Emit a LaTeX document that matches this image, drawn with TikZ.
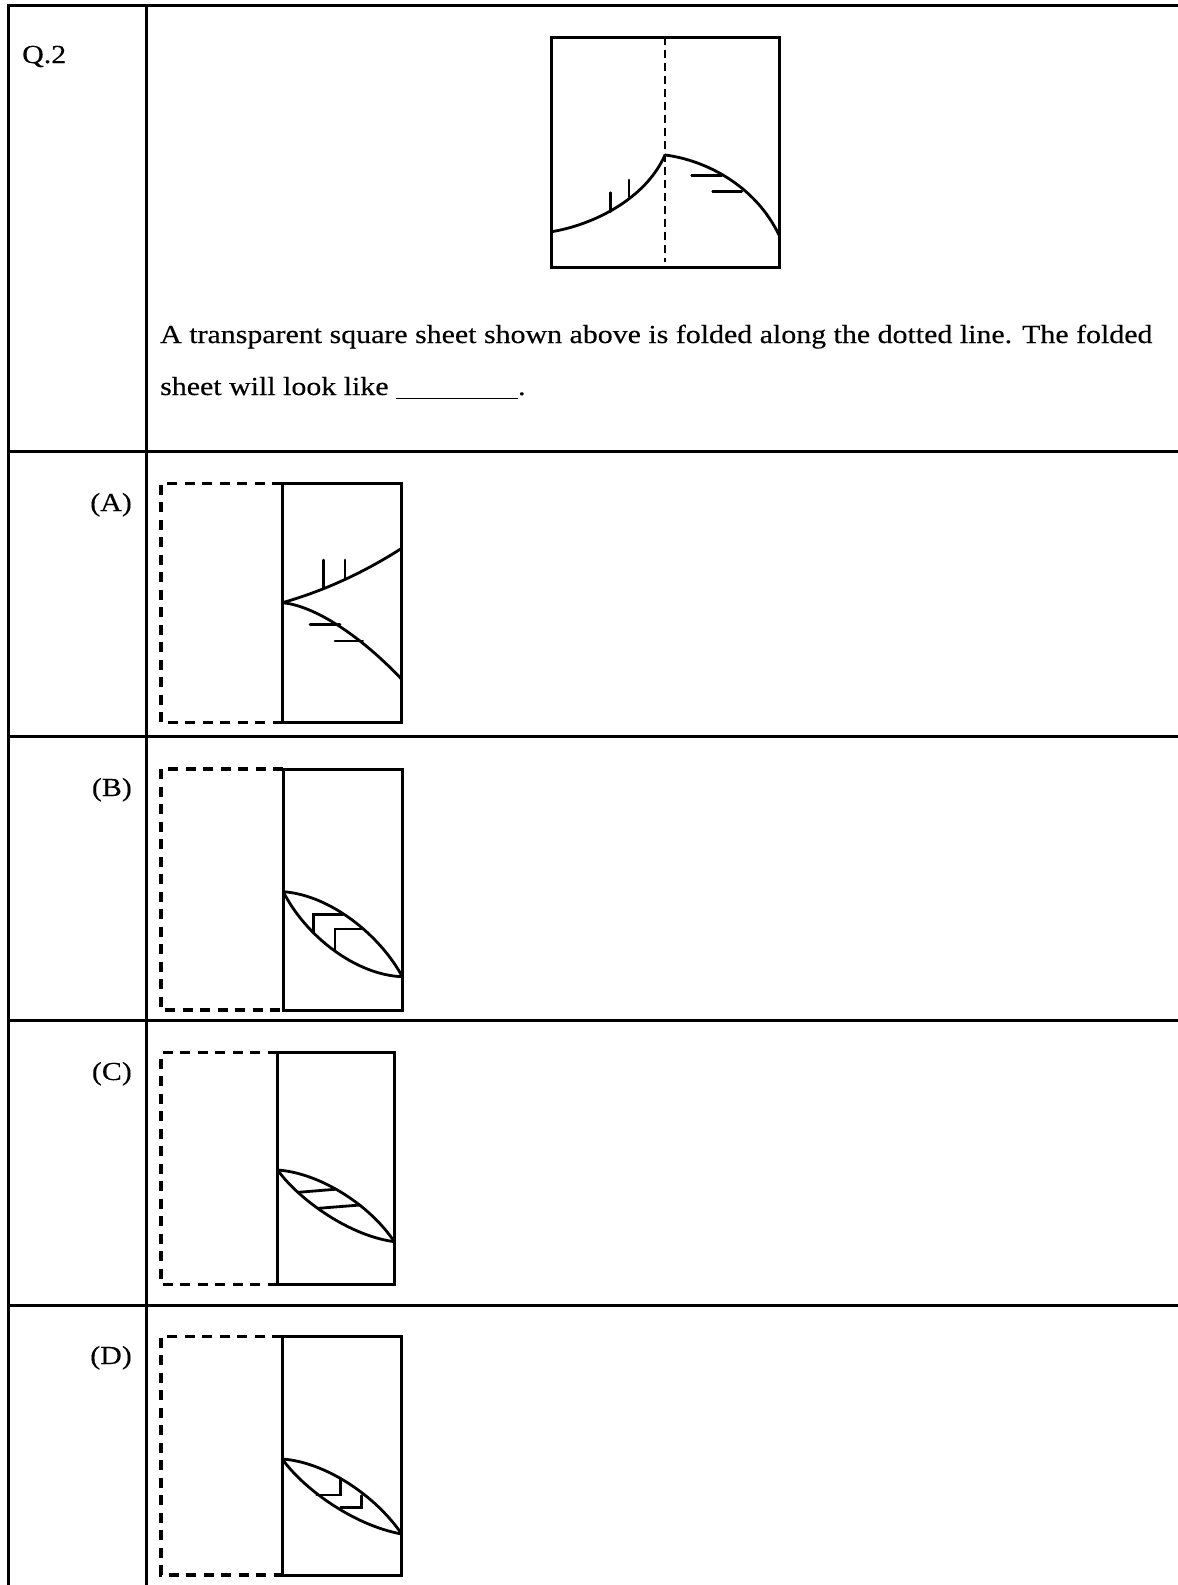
\documentclass[tikz,border=0pt]{standalone}
\usepackage{fontspec}
\setmainfont{Liberation Serif}[FakeStretch=1.15,FakeBold=0.3]
\begin{document}
\begin{tikzpicture}[x=1pt,y=-1pt,
  grid/.style={line width=3pt,black},
  sheet/.style={line width=3pt,black},
  foldline/.style={line width=3.2pt,black,dash pattern=on 10pt off 7.5pt},
  crease/.style={line width=2.2pt,black,dash pattern=on 8pt off 5pt},
  curve/.style={line width=2.8pt,black,line cap=round},
  lbl/.style={inner sep=0pt,font=\fontsize{26}{30}\selectfont}]
\useasboundingbox[fill=white] (0,0) rectangle (1178,1585);
% table
\draw[grid] (8,1585) -- (8,5) -- (1178,5);
\draw[grid] (146,5) -- (146,1585);
\foreach \yy in {451,736,1020,1305} \draw[grid] (8,\yy) -- (1178,\yy);
% texts
\node[lbl,anchor=base west] (q) at (22,63) {Q.2};
\node[lbl,anchor=base west] (t1) at (160,343) {A transparent square sheet shown above is folded along the dotted line. The folded};
\node[lbl,anchor=base west] (t2) at (160,395) {sheet will look like \rule[-4pt]{122pt}{1pt}.};
\node[lbl,anchor=base east] (la) at (132,511) {(A)};
\node[lbl,anchor=base east] (lb) at (132,796) {(B)};
\node[lbl,anchor=base east] (lc) at (132,1080) {(C)};
\node[lbl,anchor=base east] (ld) at (132,1364) {(D)};
% question figure
\draw[sheet] (551.7,37) rectangle (779,267);
\draw[crease] (665,37) -- (665,262);
\draw[curve] (551.7,231.7) .. controls (592,225) and (645,200) .. (665,155);
\draw[curve] (665,155) .. controls (705,160) and (755,185) .. (779,235);
\draw[curve] (610.7,192.7) -- (610.7,211.7);
\draw[curve] (629,180) -- (629,196.7);
\draw[curve] (691.7,175.7) -- (721.7,175.7);
\draw[curve] (712.7,191.7) -- (741.7,191.7);
% option A
\draw[foldline] (282.3,483.3) -- (161,483.3) -- (161,722.7) -- (282.3,722.7);
\draw[sheet] (282.3,483.3) rectangle (401.7,722.7);
\draw[curve] (282.3,602.7) .. controls (320,592) and (360,575) .. (401.7,548.3);
\draw[curve] (282.3,602.7) .. controls (310,605) and (355,630) .. (401.7,679.3);
\draw[curve] (323.3,560) -- (323.3,587.3);
\draw[curve] (345,560) -- (345,578.3);
\draw[curve] (310,624.3) -- (340,624.3);
\draw[curve] (335,641) -- (362.7,641);
% option B
\draw[foldline] (283.3,769) -- (161,769) -- (161,1010) -- (283.3,1010);
\draw[sheet] (283.3,769) rectangle (402.3,1010);
\draw[curve] (283.3,891.7) .. controls (330,895) and (380,935) .. (402.3,976.7);
\draw[curve] (283.3,891.7) .. controls (305,935) and (355,975) .. (402.3,976.7);
\draw[curve] (313.3,931.7) -- (313.3,914.3) -- (342.7,914.3);
\draw[curve] (335,950) -- (335,929) -- (363.3,929);
% option C
\draw[foldline] (277.7,1052.7) -- (161,1052.7) -- (161,1284.3) -- (277.7,1284.3);
\draw[sheet] (277.7,1052.7) rectangle (394.3,1284.3);
\draw[curve] (277.7,1170) .. controls (320,1173) and (370,1205) .. (394.3,1241.7);
\draw[curve] (277.7,1170) .. controls (295,1195) and (345,1235) .. (394.3,1241.7);
\draw[curve] (298.3,1192.3) -- (335,1189.3);
\draw[curve] (318.3,1208.3) -- (360,1205);
% option D
\draw[foldline] (282.3,1336.7) -- (161,1336.7) -- (161,1575) -- (282.3,1575);
\draw[sheet] (282.3,1336.7) rectangle (401.7,1575);
\draw[curve] (282.3,1459) .. controls (325,1462) and (375,1495) .. (401.7,1534);
\draw[curve] (282.3,1459) .. controls (302,1487) and (352,1525) .. (401.7,1534);
\draw[curve] (316.7,1495) -- (340.7,1495) -- (340.7,1478.3);
\draw[curve] (340.7,1507.7) -- (361.7,1507.7) -- (361.7,1495.7);
\end{tikzpicture}
\end{document}
